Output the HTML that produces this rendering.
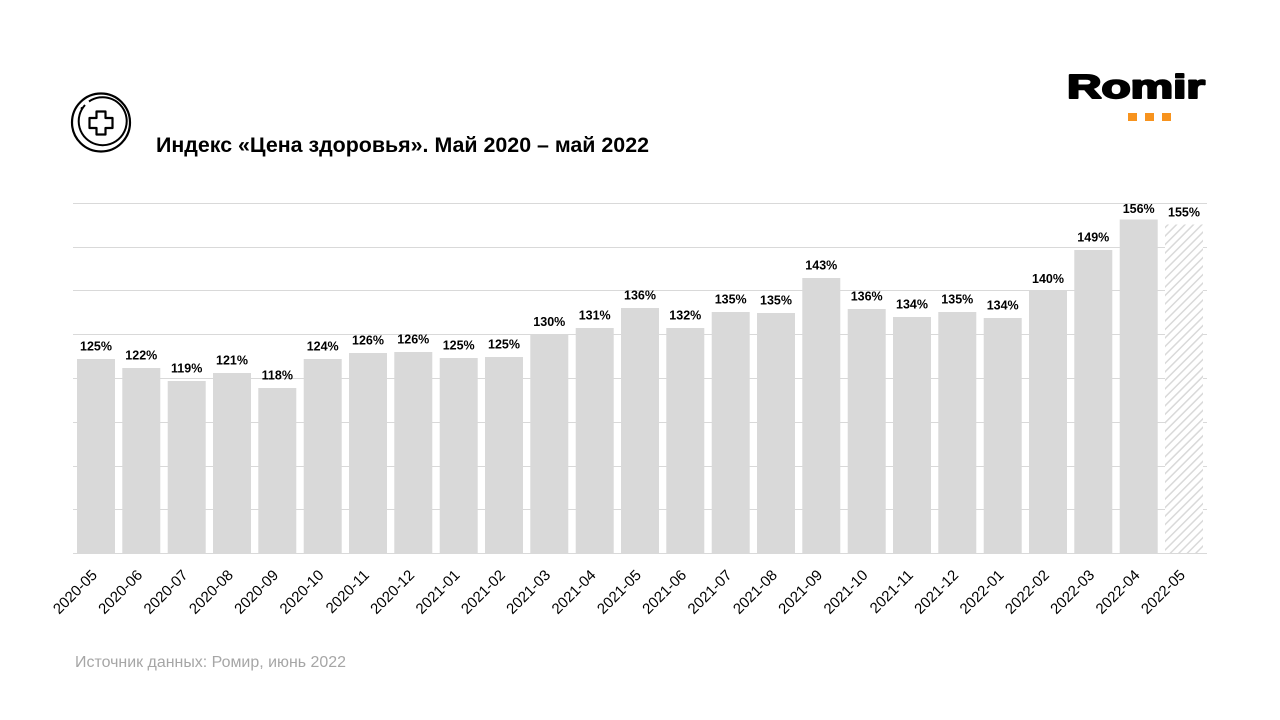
<!DOCTYPE html>
<html>
<head>
<meta charset="utf-8">
<style>
  html, body { margin:0; padding:0; background:#fff; }
  body { width:1280px; height:720px; overflow:hidden; }
  svg { display:block; }
  text { font-family: "Liberation Sans", "Noto Sans CJK SC", sans-serif; }
</style>
</head>
<body>
<svg width="1280" height="720" viewBox="0 0 1280 720" xmlns="http://www.w3.org/2000/svg">
  <defs>
    <pattern id="hatch" patternUnits="userSpaceOnUse" width="6" height="6" patternTransform="rotate(45)">
      <rect width="6" height="6" fill="#ffffff"/>
      <line x1="0" y1="0" x2="0" y2="6" stroke="#d9d9d9" stroke-width="3"/>
    </pattern>
  </defs>

  <!-- Icon -->
  <circle cx="101" cy="122.5" r="29" fill="none" stroke="#000" stroke-width="2.2"/>
  <path d="M 85 105 A 24 24 0 1 0 89 101.5" fill="none" stroke="#000" stroke-width="2"/>
  <circle cx="81.8" cy="108.2" r="1.2" fill="#000"/>
  <path d="M 96.5 111.5 L 105.5 111.5 L 105.5 118 L 112.5 118 L 112.5 128 L 105.5 128 L 105.5 134.5 L 96.5 134.5 L 96.5 128 L 89.5 128 L 89.5 118 L 96.5 118 Z" fill="none" stroke="#000" stroke-width="2.2" stroke-linejoin="round"/>

  <!-- Title -->
  <text x="156" y="152" font-size="21.5" font-weight="bold" fill="#000" textLength="493" lengthAdjust="spacingAndGlyphs">Индекс «Цена здоровья». Май 2020 – май 2022</text>

  <!-- Logo -->
  <text x="1067" y="98" font-size="33" font-weight="bold" fill="#000" stroke="#000" stroke-width="2" stroke-linejoin="round" textLength="138" lengthAdjust="spacingAndGlyphs">Romir</text>
  <rect x="1128" y="113" width="9" height="8" fill="#f7931e"/>
  <rect x="1145" y="113" width="9" height="8" fill="#f7931e"/>
  <rect x="1162" y="113" width="9" height="8" fill="#f7931e"/>

  <!-- Gridlines -->
  <g stroke="#d9d9d9" stroke-width="1">
    <line x1="73" y1="203.5" x2="1207" y2="203.5"/>
    <line x1="73" y1="247.5" x2="1207" y2="247.5"/>
    <line x1="73" y1="290.5" x2="1207" y2="290.5"/>
    <line x1="73" y1="334.5" x2="1207" y2="334.5"/>
    <line x1="73" y1="378.5" x2="1207" y2="378.5"/>
    <line x1="73" y1="422.5" x2="1207" y2="422.5"/>
    <line x1="73" y1="466.5" x2="1207" y2="466.5"/>
    <line x1="73" y1="509.5" x2="1207" y2="509.5"/>
  </g>

  <!-- Bars -->
  <g fill="#d9d9d9">
    <rect x="77" y="359" width="38" height="194"/>
    <rect x="122.3" y="368" width="38" height="185"/>
    <rect x="167.7" y="381" width="38" height="172"/>
    <rect x="213" y="373" width="38" height="180"/>
    <rect x="258.3" y="388" width="38" height="165"/>
    <rect x="303.7" y="359" width="38" height="194"/>
    <rect x="349" y="353" width="38" height="200"/>
    <rect x="394.3" y="352" width="38" height="201"/>
    <rect x="439.7" y="358" width="38" height="195"/>
    <rect x="485" y="357" width="38" height="196"/>
    <rect x="530.3" y="334.5" width="38" height="218.5"/>
    <rect x="575.7" y="328" width="38" height="225"/>
    <rect x="621" y="308" width="38" height="245"/>
    <rect x="666.3" y="328" width="38" height="225"/>
    <rect x="711.7" y="312" width="38" height="241"/>
    <rect x="757" y="313" width="38" height="240"/>
    <rect x="802.3" y="278" width="38" height="275"/>
    <rect x="847.7" y="309" width="38" height="244"/>
    <rect x="893" y="317" width="38" height="236"/>
    <rect x="938.3" y="312" width="38" height="241"/>
    <rect x="983.7" y="318" width="38" height="235"/>
    <rect x="1029" y="290" width="38" height="263"/>
    <rect x="1074.3" y="250" width="38" height="303"/>
    <rect x="1119.7" y="219.5" width="38" height="333.5"/>
  </g>
  <rect x="1165" y="224.5" width="38" height="328.5" fill="url(#hatch)"/>

  <!-- Axis line -->
  <line x1="73" y1="553.5" x2="1207" y2="553.5" stroke="#d9d9d9" stroke-width="1"/>

  <!-- Value labels -->
  <g font-size="12.5" font-weight="bold" fill="#000" text-anchor="middle">
    <text x="96" y="350.5">125%</text>
    <text x="141.3" y="359.5">122%</text>
    <text x="186.7" y="372.5">119%</text>
    <text x="232" y="364.5">121%</text>
    <text x="277.3" y="379.5">118%</text>
    <text x="322.7" y="350.5">124%</text>
    <text x="368" y="344.5">126%</text>
    <text x="413.3" y="343.5">126%</text>
    <text x="458.7" y="349.5">125%</text>
    <text x="504" y="348.5">125%</text>
    <text x="549.3" y="326">130%</text>
    <text x="594.7" y="319.5">131%</text>
    <text x="640" y="299.5">136%</text>
    <text x="685.3" y="319.5">132%</text>
    <text x="730.7" y="303.5">135%</text>
    <text x="776" y="304.5">135%</text>
    <text x="821.3" y="269.5">143%</text>
    <text x="866.7" y="300.5">136%</text>
    <text x="912" y="308.5">134%</text>
    <text x="957.3" y="303.5">135%</text>
    <text x="1002.7" y="309.5">134%</text>
    <text x="1048" y="283">140%</text>
    <text x="1093.3" y="241.5">149%</text>
    <text x="1138.7" y="213">156%</text>
    <text x="1184" y="216.5">155%</text>
  </g>

  <!-- X axis labels -->
  <g font-size="15" fill="#000" text-anchor="end">
    <text transform="translate(98,576) rotate(-45)">2020-05</text>
    <text transform="translate(143.3,576) rotate(-45)">2020-06</text>
    <text transform="translate(188.7,576) rotate(-45)">2020-07</text>
    <text transform="translate(234,576) rotate(-45)">2020-08</text>
    <text transform="translate(279.3,576) rotate(-45)">2020-09</text>
    <text transform="translate(324.7,576) rotate(-45)">2020-10</text>
    <text transform="translate(370,576) rotate(-45)">2020-11</text>
    <text transform="translate(415.3,576) rotate(-45)">2020-12</text>
    <text transform="translate(460.7,576) rotate(-45)">2021-01</text>
    <text transform="translate(506,576) rotate(-45)">2021-02</text>
    <text transform="translate(551.3,576) rotate(-45)">2021-03</text>
    <text transform="translate(596.7,576) rotate(-45)">2021-04</text>
    <text transform="translate(642,576) rotate(-45)">2021-05</text>
    <text transform="translate(687.3,576) rotate(-45)">2021-06</text>
    <text transform="translate(732.7,576) rotate(-45)">2021-07</text>
    <text transform="translate(778,576) rotate(-45)">2021-08</text>
    <text transform="translate(823.3,576) rotate(-45)">2021-09</text>
    <text transform="translate(868.7,576) rotate(-45)">2021-10</text>
    <text transform="translate(914,576) rotate(-45)">2021-11</text>
    <text transform="translate(959.3,576) rotate(-45)">2021-12</text>
    <text transform="translate(1004.7,576) rotate(-45)">2022-01</text>
    <text transform="translate(1050,576) rotate(-45)">2022-02</text>
    <text transform="translate(1095.3,576) rotate(-45)">2022-03</text>
    <text transform="translate(1140.7,576) rotate(-45)">2022-04</text>
    <text transform="translate(1186,576) rotate(-45)">2022-05</text>
  </g>

  <!-- Footer -->
  <text x="75" y="667" font-size="16" fill="#a6a6a6" textLength="271" lengthAdjust="spacingAndGlyphs">Источник данных: Ромир, июнь 2022</text>
</svg>
</body>
</html>
